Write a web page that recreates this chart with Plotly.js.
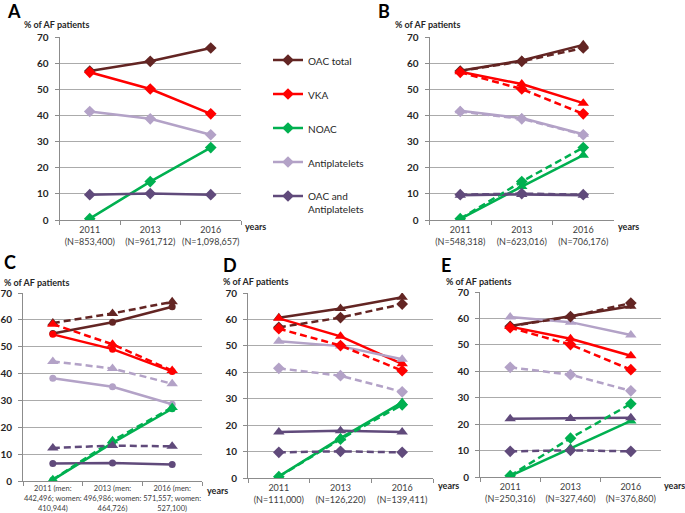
<!DOCTYPE html>
<html>
<head>
<meta charset="utf-8">
<script src="https://cdn.plot.ly/plotly-3.0.1.min.js"></script>
<style>
  html, body { margin: 0; padding: 0; background: #fff; }
  #chart { width: 685px; height: 513px; }
</style>
</head>
<body>
<div id="chart"></div>
<script>
// series names and colours
const seriesNames = ['OAC total', 'VKA', 'NOAC', 'Antiplatelets', 'OAC and<br>Antiplatelets'];
const seriesColors = ['#632523', '#FF0000', '#00B050', '#B3A2C7', '#604A7B'];

// x tick labels per panel
const ticksA = ['2011<br>(N=853,400)', '2013<br>(N=961,712)', '2016<br>(N=1,098,657)'];
const ticksB = ['2011<br>(N=548,318)', '2013<br>(N=623,016)', '2016<br>(N=706,176)'];
const ticksC = ['2011 (men:<br>442,496; women:<br>410,944)', '2013 (men:<br>496,986; women:<br>464,726)', '2016 (men:<br>571,557; women:<br>527,100)'];
const ticksD = ['2011<br>(N=111,000)', '2013<br>(N=126,220)', '2016<br>(N=139,411)'];
const ticksE = ['2011<br>(N=250,316)', '2013<br>(N=327,460)', '2016<br>(N=376,860)'];

// panel A: all AF patients (also the dashed reference in B, D, E)
const allOac = [57.0, 60.7, 65.8];
const allVka = [56.5, 50.1, 40.6];
const allNoac = [0.5, 14.7, 27.7];
const allAnti = [41.5, 38.7, 32.6];
const allBoth = [9.7, 10.1, 9.7];

// panel B
const bOac = [57.1, 61.0, 67.0];
const bVka = [56.7, 52.0, 44.7];
const bNoac = [0.4, 12.8, 24.8];
const bAnti = [41.8, 39.0, 32.8];
const bBoth = [9.5, 9.8, 9.5];

// panel C, solid (circles) and dashed (triangles)
const cSolidOac = [54.9, 59.1, 64.9];
const cSolidVka = [54.6, 49.1, 40.8];
const cSolidNoac = [0.4, 14.2, 26.9];
const cSolidAnti = [38.3, 35.1, 28.6];
const cSolidBoth = [6.5, 6.7, 6.1];
const cDashOac = [58.8, 62.4, 66.7];
const cDashVka = [58.4, 50.9, 41.1];
const cDashNoac = [0.5, 15.0, 27.4];
const cDashAnti = [44.5, 41.9, 36.2];
const cDashBoth = [12.3, 13.2, 12.9];

// panel D
const dOac = [60.6, 64.1, 68.4];
const dVka = [60.4, 53.6, 43.2];
const dNoac = [0.6, 15.1, 28.6];
const dAnti = [51.7, 49.9, 44.9];
const dBoth = [17.4, 17.9, 17.4];

// panel E
const eOac = [57.1, 60.8, 64.6];
const eVka = [56.9, 52.3, 45.9];
const eNoac = [0.4, 10.9, 21.2];
const eAnti = [60.5, 58.6, 53.7];
const eBoth = [22.0, 22.1, 22.4];

const W = 685, H = 513;
const px = x => x / W;
const py = y => 1 - y / H;
const FONT = 'Lato, "Open Sans", sans-serif';

const traces = [];
function addSet(values, ticks, xa, ya, symbol, dash, size, legend) {
  values.forEach((v, i) => {
    traces.push({
      type: 'scatter', mode: 'lines+markers',
      x: ticks, y: v, xaxis: xa, yaxis: ya,
      name: seriesNames[i],
      legendgroup: 'g' + i,
      showlegend: !!legend,
      line: { color: seriesColors[i], width: 2.5, dash: dash },
      marker: { color: seriesColors[i], symbol: symbol, size: size },
      hoverinfo: 'skip'
    });
  });
}

addSet([allOac, allVka, allNoac, allAnti, allBoth], ticksA, 'x', 'y', 'diamond', 'solid', 9, true);

addSet([bOac, bVka, bNoac, bAnti, bBoth], ticksB, 'x2', 'y2', 'triangle-up', 'solid', 10);
addSet([allOac, allVka, allNoac, allAnti, allBoth], ticksB, 'x2', 'y2', 'diamond', '7px,4px', 9);

addSet([cSolidOac, cSolidVka, cSolidNoac, cSolidAnti, cSolidBoth], ticksC, 'x3', 'y3', 'circle', 'solid', 7);
addSet([cDashOac, cDashVka, cDashNoac, cDashAnti, cDashBoth], ticksC, 'x3', 'y3', 'triangle-up', '7px,4px', 10);

addSet([dOac, dVka, dNoac, dAnti, dBoth], ticksD, 'x4', 'y4', 'triangle-up', 'solid', 10);
addSet([allOac, allVka, allNoac, allAnti, allBoth], ticksD, 'x4', 'y4', 'diamond', '7px,4px', 9);

addSet([eOac, eVka, eNoac, eAnti, eBoth], ticksE, 'x5', 'y5', 'triangle-up', 'solid', 10);
addSet([allOac, allVka, allNoac, allAnti, allBoth], ticksE, 'x5', 'y5', 'diamond', '7px,4px', 9);

function xax(x0, x1, anchor, fs, standoff) {
  return {
    domain: [px(x0), px(x1)], anchor: anchor, type: 'category',
    range: [-0.5, 2.5], tickson: 'boundaries', tickangle: 0,
    ticks: 'outside', ticklen: 4, tickcolor: '#8c8c8c',
    showline: true, linecolor: '#8c8c8c', linewidth: 1,
    showgrid: false, zeroline: false, fixedrange: true,
    ticklabelstandoff: standoff === undefined ? 1 : standoff,
    tickfont: { family: FONT, size: fs || 9, color: '#404040' }
  };
}
function yax(yTop, yBottom, anchor) {
  return {
    domain: [py(yBottom), py(yTop)], anchor: anchor,
    range: [0, 70], tick0: 0, dtick: 10,
    ticks: 'outside', ticklen: 4, tickcolor: '#8c8c8c',
    showline: true, linecolor: '#8c8c8c', linewidth: 1,
    showgrid: true, gridcolor: '#ababab', gridwidth: 1,
    zeroline: false, fixedrange: true, ticklabelstandoff: 4,
    tickfont: { family: FONT, size: 10, color: '#262626', weight: 'bold' }
  };
}

function note(text, x, y, opts) {
  return Object.assign({
    text: text, xref: 'paper', yref: 'paper', x: px(x), y: py(y),
    xanchor: 'left', yanchor: 'middle', showarrow: false,
    font: { family: FONT, size: 9, color: '#262626', weight: 'bold' }
  }, opts || {});
}
const letterFont = { family: FONT, size: 18, color: '#000', weight: 'bold' };
const yearsFont = { family: FONT, size: 9, color: '#262626', weight: 'bold' };

const layout = {
  width: W, height: H,
  margin: { l: 0, r: 0, t: 0, b: 0 },
  paper_bgcolor: '#fff', plot_bgcolor: 'rgba(0,0,0,0)',
  font: { family: FONT },
  xaxis: xax(59.5, 241, 'y'),   yaxis: yax(37, 220, 'x'),
  xaxis2: xax(429.5, 614, 'y2'), yaxis2: yax(37, 220, 'x2'),
  xaxis3: xax(23, 202, 'y3', 7.5, 0),   yaxis3: yax(293, 481, 'x3'),
  xaxis4: xax(248, 433, 'y4'),  yaxis4: yax(293, 478, 'x4'),
  xaxis5: xax(480, 661, 'y5'),  yaxis5: yax(292, 477, 'x5'),
  showlegend: true,
  legend: {
    x: px(268), y: py(47), xanchor: 'left', yanchor: 'top',
    bgcolor: 'rgba(0,0,0,0)', tracegroupgap: 15, valign: 'top',
    font: { family: FONT, size: 10, color: '#262626' }
  },
  annotations: [
    note('A', 5, 11, { font: letterFont }),
    note('B', 376, 11, { font: letterFont }),
    note('C', 2, 262, { font: letterFont }),
    note('D', 221, 265, { font: letterFont }),
    note('E', 439, 265, { font: letterFont }),
    note('% of AF patients', 22, 24),
    note('% of AF patients', 393, 24),
    note('% of AF patients', 2, 282),
    note('% of AF patients', 221, 281),
    note('% of AF patients', 444, 281),
    note('years', 243, 226, { font: yearsFont }),
    note('years', 616, 226, { font: yearsFont }),
    note('years', 205, 490, { font: yearsFont }),
    note('years', 436, 485, { font: yearsFont }),
    note('years', 662, 485, { font: yearsFont })
  ]
};

Plotly.newPlot('chart', traces, layout, { displayModeBar: false, staticPlot: true });
</script>
</body>
</html>
